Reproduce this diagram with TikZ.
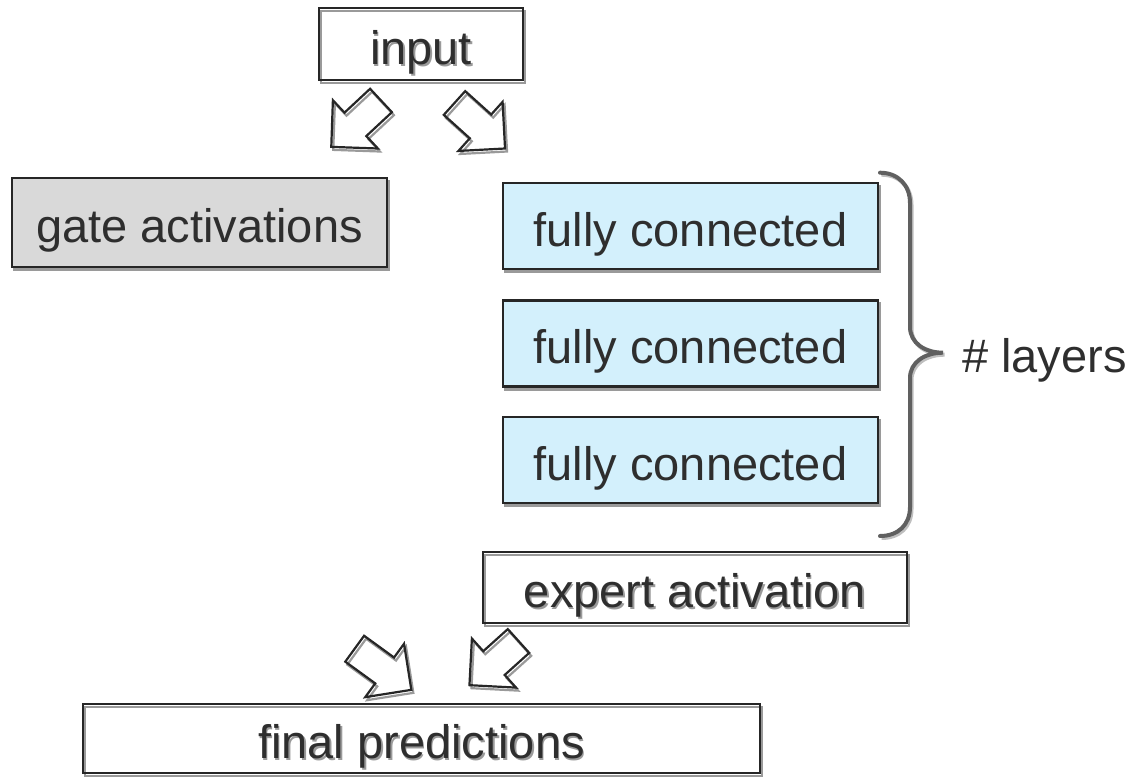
\documentclass[tikz,border=0pt]{standalone}
\usepackage{fontspec}
\setmainfont{Liberation Sans}
\usetikzlibrary{calc}
\definecolor{txt}{HTML}{2E2E2E}
\definecolor{edge}{HTML}{262626}
\definecolor{gatefill}{HTML}{D9D9D9}
\definecolor{fcfill}{HTML}{D3F0FC}
\definecolor{bracec}{HTML}{606060}
\definecolor{shade}{HTML}{9A9A9A}
\newcommand\bigfont{\fontsize{47}{56}\selectfont}
\newcommand\shtext[1]{\rlap{\kern1.6pt\raisebox{-2.2pt}{\textcolor{shade}{#1}}}#1}
\newcommand\blockarrow[4]{%
  \begin{scope}[shift={#2},rotate=#3]
    \coordinate (#1-1) at (0,16);
    \coordinate (#1-2) at (#4-33,16);
    \coordinate (#1-3) at (#4-33,33);
    \coordinate (#1-4) at (#4,0);
    \coordinate (#1-5) at (#4-33,-33);
    \coordinate (#1-6) at (#4-33,-16);
    \coordinate (#1-7) at (0,-16);
  \end{scope}
  \draw[arrowshadow] (#1-1)--(#1-2)--(#1-3)--(#1-4)--(#1-5)--(#1-6)--(#1-7)--cycle;
  \draw[arrowline] (#1-1)--(#1-2)--(#1-3)--(#1-4)--(#1-5)--(#1-6)--(#1-7)--cycle;
}
\begin{document}
\begin{tikzpicture}[x=1pt,y=1pt,
  boxbase/.style={draw=edge, line width=2.2pt, text=txt, font=\bigfont,
    inner sep=0pt, text height=40pt, text depth=0pt},
  plainbox/.style={boxbase,
    preaction={draw=shade, line width=2.2pt, transform canvas={shift={(2pt,-3pt)}}}},
  fillbox/.style={boxbase, fill=#1,
    preaction={draw=shade, fill=shade, line width=2.2pt, transform canvas={shift={(2pt,-3pt)}}}},
  arrowshadow/.style={draw=shade, line width=2.2pt, line join=miter, transform canvas={shift={(2pt,-3pt)}}},
  arrowline/.style={draw=edge, line width=2.2pt, line join=miter},
  bracestyle/.style={draw=bracec, line width=4pt, line cap=round},
  ]
\useasboundingbox (0,0) rectangle (1132,-779);

\node[plainbox, minimum width=204pt, minimum height=72pt] (input) at (421,-44) {\shtext{input}};
\node[fillbox=gatefill, minimum width=375pt, minimum height=89pt] (gate) at (199.5,-222.5) {gate activations};
\node[fillbox=fcfill, minimum width=375pt, minimum height=86pt] (fc1) at (690.5,-226) {fully connected};
\node[fillbox=fcfill, minimum width=375pt, minimum height=86pt] (fc2) at (690.5,-343.5) {fully connected};
\node[fillbox=fcfill, minimum width=375pt, minimum height=86pt] (fc3) at (690.5,-460) {fully connected};
\node[plainbox, minimum width=424pt, minimum height=71pt] (expert) at (695,-587.5) {\shtext{expert activation}};
\node[plainbox, minimum width=677pt, minimum height=69pt] (final) at (421.5,-738.5) {\shtext{final predictions}};

% block arrows
\blockarrow{a1}{(381,-100.5)}{-137}{68}
\blockarrow{a2}{(454.5,-103)}{-42}{68}
\blockarrow{a3}{(354.7,-648.7)}{-36}{70}
\blockarrow{a4}{(518.5,-641)}{-138}{66}

% brace
\coordinate (btop) at (880,-172.7);
\coordinate (btip) at (943,-352.7);
\coordinate (bbot) at (880,-536);
\draw[draw=black!25, line width=4pt, transform canvas={shift={(1.5pt,-2pt)}}]
  (btop) .. controls (898,-172.7) and (910,-185) .. (910,-203) -- (910,-327)
  .. controls (910,-343) and (925,-352.7) .. (btip)
  .. controls (925,-352.7) and (910,-362) .. (910,-378) -- (910,-507)
  .. controls (910,-525) and (898,-536) .. (bbot);
\draw[bracestyle]
  (btop) .. controls (898,-172.7) and (910,-185) .. (910,-203) -- (910,-327)
  .. controls (910,-343) and (925,-352.7) .. (btip)
  .. controls (925,-352.7) and (910,-362) .. (910,-378) -- (910,-507)
  .. controls (910,-525) and (898,-536) .. (bbot);
\node[anchor=base west, inner sep=0pt, text=txt, font=\bigfont] (layers) at (962,-372) {\# layers};
\end{tikzpicture}
\end{document}
